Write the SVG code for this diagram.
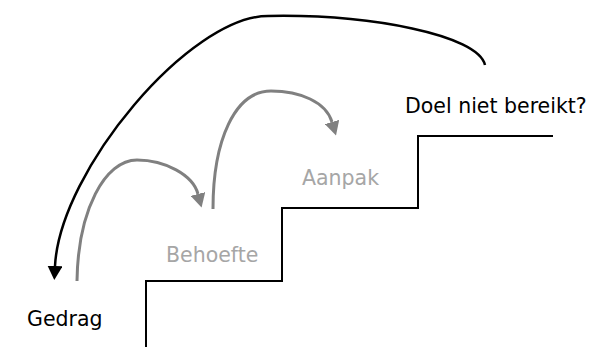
<svg xmlns="http://www.w3.org/2000/svg" width="598" height="347" viewBox="0 0 598 347">
<style>
.lbl{font-family:"DejaVu Sans","Verdana",sans-serif;font-size:20.5px}
.dark{fill:#000}
.light{fill:#a6a6a6}
.stair{fill:none;stroke:#000;stroke-width:2}
.blk{fill:none;stroke:#000;stroke-width:2.5}
.gry{fill:none;stroke:#808080;stroke-width:3}
</style>
<defs>
<marker id="ahB" markerUnits="userSpaceOnUse" viewBox="0 0 14 15" markerWidth="14" markerHeight="15" refX="0" refY="7.5" orient="auto">
<path d="M0,0 L14,7.5 L0,15 z" fill="#000"/>
</marker>
<marker id="ahG" markerUnits="userSpaceOnUse" viewBox="0 0 14 15" markerWidth="14" markerHeight="15" refX="0" refY="7.5" orient="auto">
<path d="M0,0 L14,7.5 L0,15 z" fill="#808080"/>
</marker>
</defs>
<g id="stairs">
<path class="stair" d="M146,347 L146,281 L282,281 L282,208 L418,208 L418,136 L553,136"/>
</g>
<g id="connectors">
<path class="blk" marker-end="url(#ahB)" d="M485,65 C478,35 370,14 268,16 C190,16 60,170 55,266"/>
<path class="gry" marker-end="url(#ahG)" d="M77,281 C78,210 105,160 137,160 C165,160 193,175 198,194"/>
<path class="gry" marker-end="url(#ahG)" d="M213,209 C213,140 235,91 271,91 C300,91 326,102 332,122"/>
</g>
<g id="node-gedrag"><text class="lbl dark" x="27" y="326">Gedrag</text></g>
<g id="node-behoefte"><text class="lbl light" x="166" y="262">Behoefte</text></g>
<g id="node-aanpak"><text class="lbl light" x="302" y="185">Aanpak</text></g>
<g id="node-doel"><text class="lbl dark" x="405" y="113">Doel niet bereikt?</text></g>
</svg>
